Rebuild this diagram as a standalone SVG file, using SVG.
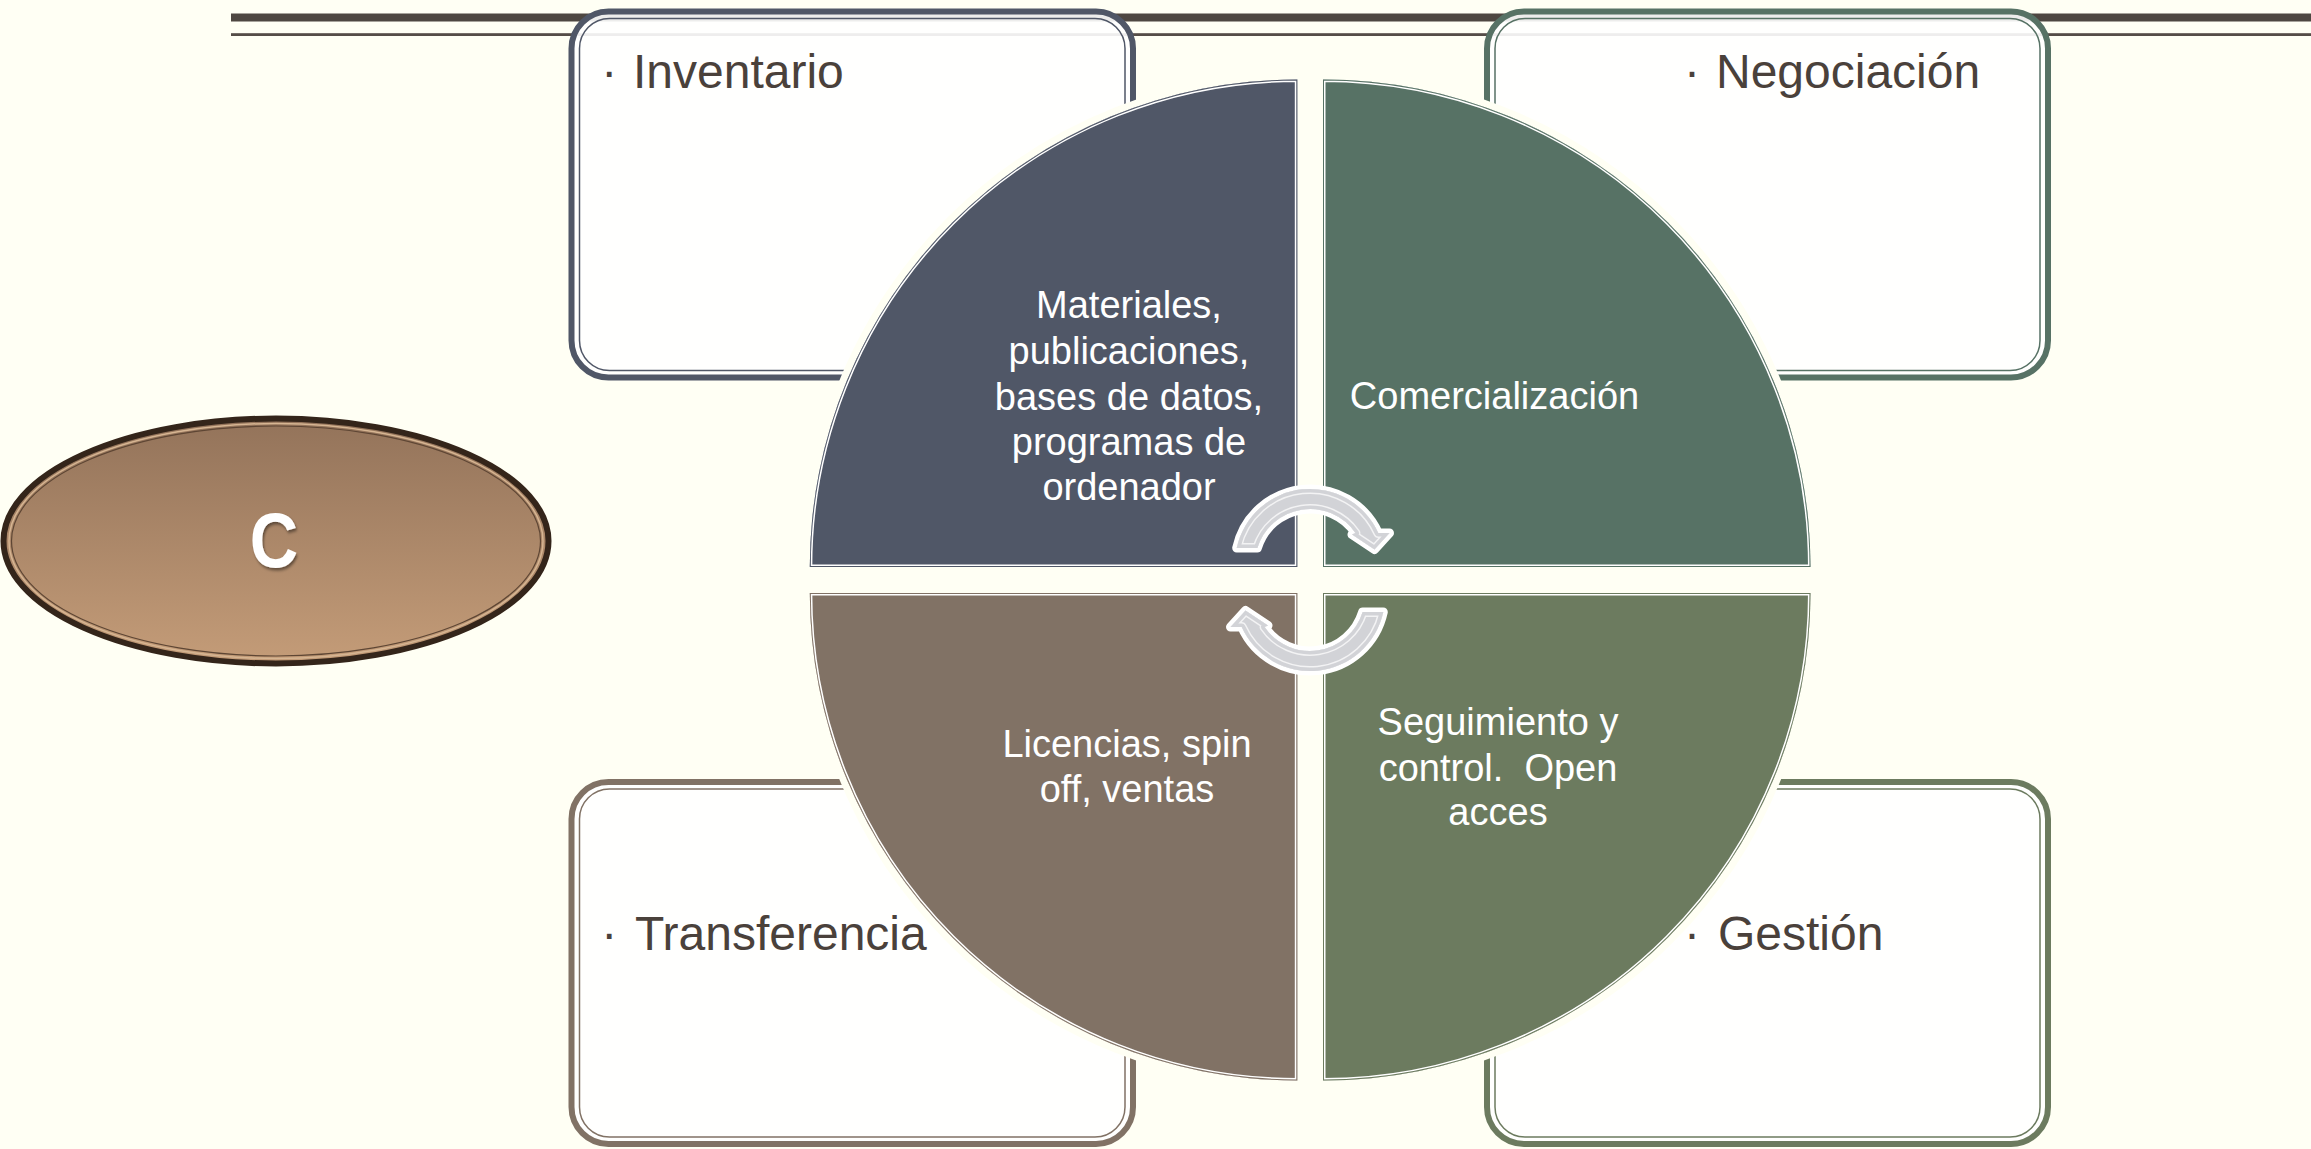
<svg xmlns="http://www.w3.org/2000/svg" width="2311" height="1149" viewBox="0 0 2311 1149">
<defs>
<style>
.bt{font-family:"Liberation Sans",Arial,sans-serif;font-size:48px;fill:#4a413b}
.qt{font-family:"Liberation Sans",Arial,sans-serif;font-size:38px;fill:#ffffff;text-anchor:middle}
.halo{fill:#fffff4;stroke:#fffff4;stroke-width:14}
.boxo{fill:#ffffff;fill-opacity:0.9;stroke-width:6}
.boxi{fill:none;stroke-width:1.5}
.wl{fill:none;stroke:#ffffff;stroke-width:5}
</style>
<path id="q1" d="M1297.3,567 L809.8,567 A487.5,487.5 0 0 1 1297.3,79.5 Z"/>
<path id="q2" d="M1323,567 L1323,79.5 A487.5,487.5 0 0 1 1810.5,567 Z"/>
<path id="q3" d="M1297.3,593 L1297.3,1080.5 A487.5,487.5 0 0 1 809.8,593 Z"/>
<path id="q4" d="M1323,593 L1810.5,593 A487.5,487.5 0 0 1 1323,1080.5 Z"/>
<clipPath id="c1"><use href="#q1"/></clipPath>
<clipPath id="c2"><use href="#q2"/></clipPath>
<clipPath id="c3"><use href="#q3"/></clipPath>
<clipPath id="c4"><use href="#q4"/></clipPath>
<path id="arw" d="M1236.7,548 A75,75 0 0 1 1378.3,533 L1389.5,533 L1374.5,549.5 L1352,534.5 L1355.4,533 A55,55 0 0 0 1257.4,548 Z"/>
<clipPath id="ac"><use href="#arw"/></clipPath>
<linearGradient id="eg" x1="0" y1="0" x2="0" y2="1">
<stop offset="0" stop-color="#93735a"/>
<stop offset="1" stop-color="#c49c78"/>
</linearGradient>
<filter id="sh" x="-30%" y="-30%" width="160%" height="160%">
<feDropShadow dx="1.5" dy="2.5" stdDeviation="1.5" flood-color="#000" flood-opacity="0.45"/>
</filter>
</defs>
<rect x="0" y="0" width="2311" height="1149" fill="#fffff4"/>
<g id="toplines">
<rect x="231" y="13.5" width="2080" height="8" fill="#4e4741"/>
<rect x="231" y="33.2" width="2080" height="2.8" fill="#554d47"/>
</g>
<g id="box-inventario">
<rect class="boxo" x="571.5" y="11.5" width="561.5" height="366" rx="37" stroke="#505767"/>
<rect class="boxi" x="579.5" y="18.5" width="545.5" height="352" rx="30" stroke="#505767"/>
<text class="bt" y="88"><tspan x="601.3">·</tspan><tspan x="633">Inventario</tspan></text>
</g>
<g id="box-negociacion">
<rect class="boxo" x="1487" y="11.5" width="561" height="366" rx="37" stroke="#577265"/>
<rect class="boxi" x="1495" y="18.5" width="545" height="352" rx="30" stroke="#577265"/>
<text class="bt" y="88"><tspan x="1684">·</tspan><tspan x="1716">Negociación</tspan></text>
</g>
<g id="box-transferencia">
<rect class="boxo" x="571.5" y="782" width="561.5" height="362" rx="37" stroke="#817265"/>
<rect class="boxi" x="579.5" y="789" width="545.5" height="348" rx="30" stroke="#817265"/>
<text class="bt" y="950"><tspan x="601.3">·</tspan><tspan x="635">Transferencia</tspan></text>
</g>
<g id="box-gestion">
<rect class="boxo" x="1487" y="782" width="561" height="362" rx="37" stroke="#6c7b5f"/>
<rect class="boxi" x="1495" y="789" width="545" height="348" rx="30" stroke="#6c7b5f"/>
<text class="bt" y="950"><tspan x="1684">·</tspan><tspan x="1718">Gestión</tspan></text>
</g>
<g id="halos">
<use href="#q1" class="halo"/>
<use href="#q2" class="halo"/>
<use href="#q3" class="halo"/>
<use href="#q4" class="halo"/>
</g>
<g id="quarter-materiales">
<use href="#q1" fill="#505767"/>
<g clip-path="url(#c1)"><use href="#q1" class="wl"/><use href="#q1" fill="none" stroke="#505767" stroke-width="2"/></g>
<text class="qt"><tspan x="1129" y="318">Materiales,</tspan><tspan x="1129" y="364">publicaciones,</tspan><tspan x="1129" y="409.5">bases de datos,</tspan><tspan x="1129" y="455">programas de</tspan><tspan x="1129" y="500">ordenador</tspan></text>
</g>
<g id="quarter-comercializacion">
<use href="#q2" fill="#577265"/>
<g clip-path="url(#c2)"><use href="#q2" class="wl"/><use href="#q2" fill="none" stroke="#577265" stroke-width="2"/></g>
<text class="qt" x="1494.5" y="408.5">Comercialización</text>
</g>
<g id="quarter-licencias">
<use href="#q3" fill="#817265"/>
<g clip-path="url(#c3)"><use href="#q3" class="wl"/><use href="#q3" fill="none" stroke="#817265" stroke-width="2"/></g>
<text class="qt"><tspan x="1127" y="756.5">Licencias, spin</tspan><tspan x="1127" y="802">off, ventas</tspan></text>
</g>
<g id="quarter-seguimiento">
<use href="#q4" fill="#6c7b5f"/>
<g clip-path="url(#c4)"><use href="#q4" class="wl"/><use href="#q4" fill="none" stroke="#6c7b5f" stroke-width="2"/></g>
<text class="qt" style="white-space:pre"><tspan x="1498" y="735">Seguimiento y</tspan><tspan x="1498" y="780.5">control.  Open</tspan><tspan x="1498" y="825">acces</tspan></text>
</g>
<g id="connectors">
<g id="arrowTop">
<use href="#arw" fill="#ffffff" stroke="#ffffff" stroke-width="9" stroke-linejoin="round"/>
<use href="#arw" fill="#d2d3d7"/>
<g clip-path="url(#ac)">
<use href="#arw" fill="none" stroke="#f3f3f4" stroke-width="10" stroke-linejoin="round"/>
<use href="#arw" fill="none" stroke="#d2d3d7" stroke-width="7" stroke-linejoin="round"/>
</g>
</g>
<use href="#arrowTop" transform="rotate(180 1310 580)"/>
</g>
<g id="node-c">
<ellipse cx="276" cy="541" rx="272.5" ry="122.5" fill="url(#eg)" stroke="#34251a" stroke-width="6"/>
<ellipse cx="276" cy="541" rx="267" ry="117.5" fill="none" stroke="#d6b592" stroke-width="1.5"/>
<ellipse cx="276" cy="541" rx="264.5" ry="115" fill="none" stroke="#5e4634" stroke-width="1.2"/>
<text transform="translate(274,567) scale(0.86,1)" x="0" y="0" font-family="Liberation Sans, Arial, sans-serif" font-size="78" font-weight="bold" fill="#ffffff" text-anchor="middle" filter="url(#sh)">C</text>
</g>
</svg>
